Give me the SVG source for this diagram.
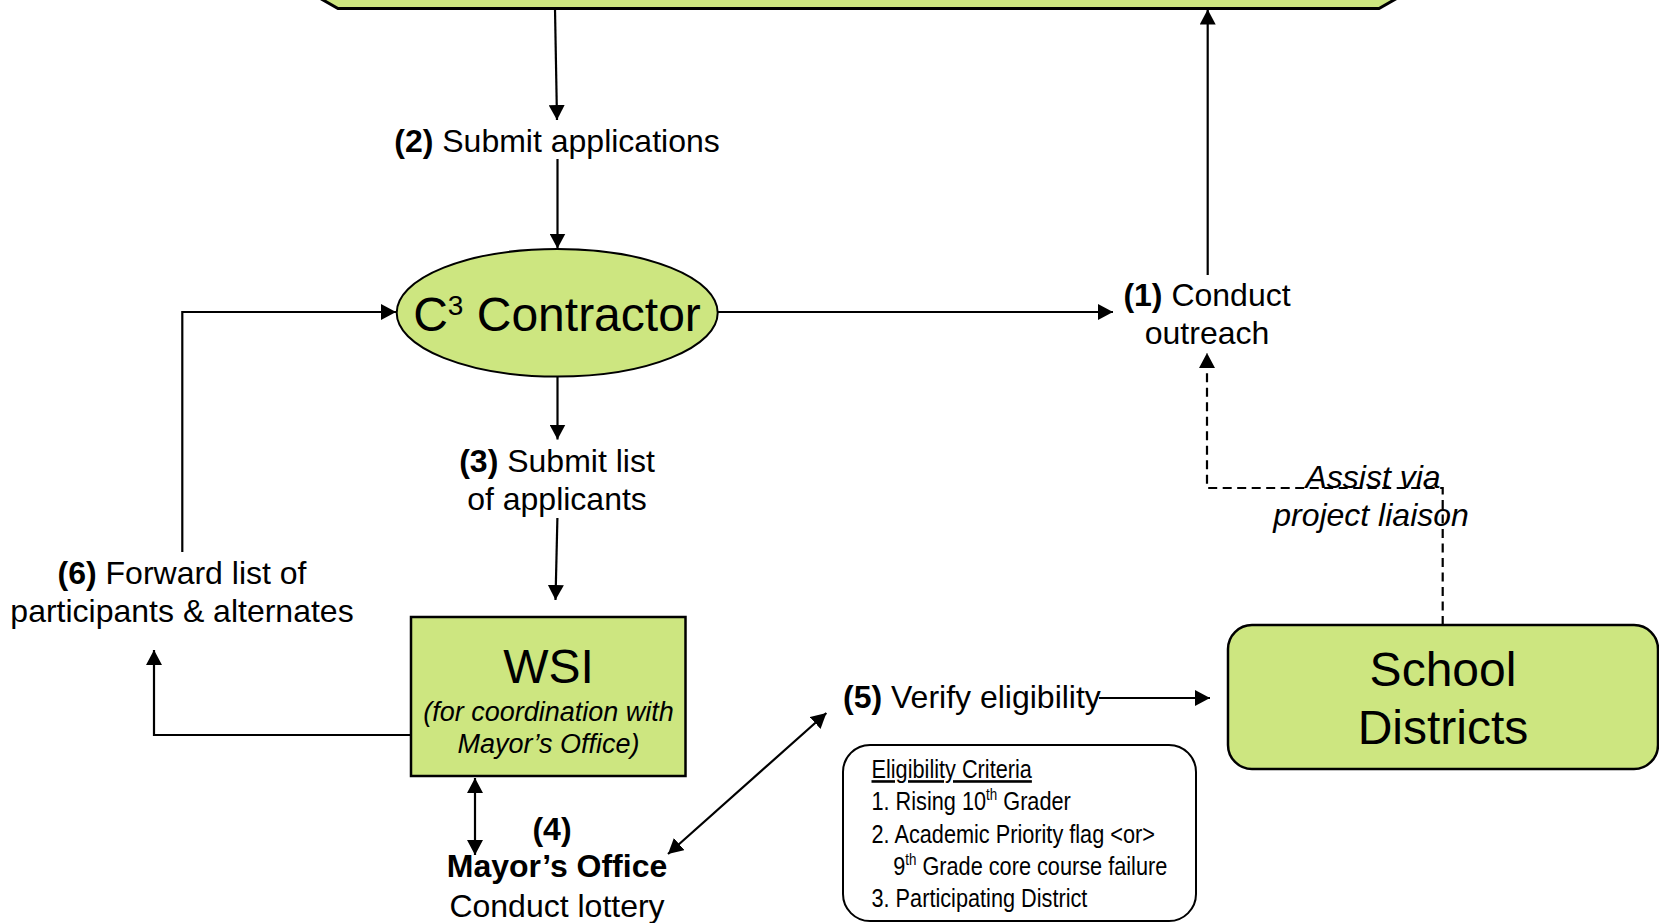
<svg xmlns="http://www.w3.org/2000/svg" width="1659" height="923" viewBox="0 0 1659 923">
<style>
  .node { fill: #cde680; stroke: #000; stroke-width: 2.5; }
  .box { fill: #fff; stroke: #000; stroke-width: 2; }
  .conn { fill: none; stroke: #000; stroke-width: 2.2; }
  .dash { stroke-dasharray: 9 5.5; }
  text { font-family: "Liberation Sans", Arial, sans-serif; fill: #000; }
  .lbl { font-size: 32px; }
  .big { font-size: 48px; }
  .it { font-style: italic; }
  .b { font-weight: bold; }
  .crit { font-size: 26px; }
</style>
<defs>
  <marker id="ah" markerUnits="userSpaceOnUse" markerWidth="16" markerHeight="16" refX="15" refY="8" orient="auto-start-reverse" viewBox="0 0 16 16">
    <path d="M0,0 L15,8 L0,16 z" fill="#000"/>
  </marker>
</defs>
<rect width="1659" height="923" fill="#fff"/>

<g id="banner">
  <polygon class="node" style="stroke-width:3" points="288,-20 338,8.5 1379,8.5 1429,-20"/>
</g>

<g id="contractor">
  <ellipse class="node" style="stroke-width:2" cx="557.2" cy="312.8" rx="160.5" ry="63.8"/>
  <text class="big" x="557" y="331" text-anchor="middle">C<tspan dy="-16" font-size="28">3</tspan><tspan dy="16"> Contractor</tspan></text>
</g>

<g id="wsi">
  <rect class="node" x="411" y="617" width="274.5" height="159"/>
  <text class="big" x="548.5" y="683" text-anchor="middle">WSI</text>
  <text class="it" font-size="27" x="548.5" y="721" text-anchor="middle">(for coordination with</text>
  <text class="it" font-size="27" x="548.5" y="753" text-anchor="middle">Mayor’s Office)</text>
</g>

<g id="school-districts">
  <rect class="node" x="1228" y="625" width="430" height="144" rx="24" ry="24"/>
  <text class="big" x="1443" y="686" text-anchor="middle">School</text>
  <text class="big" x="1443" y="744" text-anchor="middle">Districts</text>
</g>

<g id="mayors-office">
  <text class="lbl b" x="552" y="840" text-anchor="middle">(4)</text>
  <text class="lbl b" x="557" y="877" text-anchor="middle">Mayor’s Office</text>
  <text class="lbl" x="557" y="917" text-anchor="middle">Conduct lottery</text>
</g>

<g id="eligibility-criteria">
  <rect class="box" x="843" y="745" width="353" height="176" rx="27" ry="27"/>
  <g transform="translate(871.5 0) scale(0.835 1)">
    <text class="crit" x="0" y="778" text-decoration="underline">Eligibility Criteria</text>
    <text class="crit" x="0" y="810">1. Rising 10<tspan dy="-10" font-size="16">th</tspan><tspan dy="10"> Grader</tspan></text>
    <text class="crit" x="0" y="843">2. Academic Priority flag &lt;or&gt;</text>
    <text class="crit" x="26" y="875">9<tspan dy="-10" font-size="16">th</tspan><tspan dy="10"> Grade core course failure</tspan></text>
    <text class="crit" x="0" y="907">3. Participating District</text>
  </g>
</g>

<g id="connectors">
  <!-- (2) Submit applications -->
  <path class="conn" d="M555,9 L557,120" marker-end="url(#ah)"/>
  <path class="conn" d="M557.5,159 L557.5,248.5" marker-end="url(#ah)"/>
  <!-- contractor to (1) -->
  <path class="conn" d="M717.7,312 L1113,312" marker-end="url(#ah)"/>
  <!-- (1) up to banner -->
  <path class="conn" d="M1207.7,275 L1207.7,9.5" marker-end="url(#ah)"/>
  <!-- dashed assist via liaison -->
  <path class="conn dash" d="M1442.7,625 L1442.7,488 L1207,488 L1207,353" marker-end="url(#ah)"/>
  <!-- (3) submit list -->
  <path class="conn" d="M557.5,376.7 L557.5,439.5" marker-end="url(#ah)"/>
  <path class="conn" d="M557.4,518 L555.5,600" marker-end="url(#ah)"/>
  <!-- (6) forward list -->
  <path class="conn" d="M411,735 L154,735 L154,650" marker-end="url(#ah)"/>
  <path class="conn" d="M182.3,552 L182.3,312 L396,312" marker-end="url(#ah)"/>
  <!-- (4) WSI <-> Mayor's Office -->
  <path class="conn" d="M475,778 L475,855" marker-start="url(#ah)" marker-end="url(#ah)"/>
  <!-- Mayor's Office <-> (5) -->
  <path class="conn" d="M668,854 L826.4,713" marker-start="url(#ah)" marker-end="url(#ah)"/>
  <!-- (5) to school districts -->
  <path class="conn" d="M1099,698 L1210,698" marker-end="url(#ah)"/>
</g>

<g id="labels">
  <text class="lbl" x="557" y="152" text-anchor="middle"><tspan class="b">(2)</tspan> Submit applications</text>
  <text class="lbl" x="1207" y="306" text-anchor="middle"><tspan class="b">(1)</tspan> Conduct</text>
  <text class="lbl" x="1207" y="344" text-anchor="middle">outreach</text>
  <text class="lbl it" x="1373" y="488" text-anchor="middle">Assist via</text>
  <text class="lbl it" x="1371" y="526" text-anchor="middle">project liaison</text>
  <text class="lbl" x="557" y="472" text-anchor="middle"><tspan class="b">(3)</tspan> Submit list</text>
  <text class="lbl" x="557" y="510" text-anchor="middle">of applicants</text>
  <text class="lbl" x="182" y="584" text-anchor="middle"><tspan class="b">(6)</tspan> Forward list of</text>
  <text class="lbl" x="182" y="622" text-anchor="middle">participants &amp; alternates</text>
  <text class="lbl" x="843" y="708"><tspan class="b">(5)</tspan> Verify eligibility</text>
</g>
</svg>
